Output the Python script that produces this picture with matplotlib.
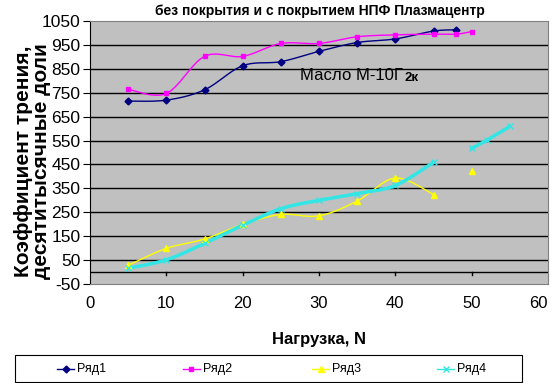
import numpy as np
import matplotlib
matplotlib.use('Agg')
import matplotlib.pyplot as plt
from matplotlib.lines import Line2D
from matplotlib.patches import Rectangle

plt.rcParams['font.family'] = ['Liberation Sans', 'DejaVu Sans']
plt.rcParams['axes.unicode_minus'] = False

# данные
x1 = [5, 10, 15, 20, 25, 30, 35, 40, 45, 48]
y1 = [715, 719, 762, 863, 880, 923, 960, 975, 1008, 1013]
x2 = [5, 10, 15, 20, 25, 30, 35, 40, 45, 48, 50]
y2 = [764, 747, 902, 902, 956, 956, 984, 992, 995, 995, 1006]
x3 = [5, 10, 15, 20, 25, 30, 35, 40, 45, 48, 50]
y3 = [28, 99, 138, 199, 241, 235, 297, 393, 324, np.nan, 424]
x4 = [5, 10, 15, 20, 25, 30, 35, 40, 45, 48, 50, 52, 55]
y4 = [16, 51, 120, 196, 265, 300, 328, 362, 459, np.nan, 517, 552, 609]
names = ['Ряд1', 'Ряд2', 'Ряд3', 'Ряд4']
xticks = [0, 10, 20, 30, 40, 50, 60]
yticks = list(range(-50, 1051, 100))


def smooth(x, y, n=20):
    # кривая Катмулла-Рома между точками (как сглаженная линия Excel)
    x = np.asarray(x, float)
    y = np.asarray(y, float)
    out_x, out_y = [], []
    ok = ~np.isnan(y)
    idx = np.where(ok)[0]
    segs = np.split(idx, np.where(np.diff(idx) != 1)[0] + 1)
    for s in segs:
        px, py = x[s], y[s]
        if len(px) < 2:
            continue
        px = np.r_[px[0], px, px[-1]]
        py = np.r_[py[0], py, py[-1]]
        t = np.linspace(0, 1, n)
        for i in range(1, len(px) - 2):
            for p, o in ((px, out_x), (py, out_y)):
                p0, p1, p2, p3 = p[i - 1], p[i], p[i + 1], p[i + 2]
                o.extend(0.5 * (2 * p1 + (-p0 + p2) * t
                                + (2 * p0 - 5 * p1 + 4 * p2 - p3) * t ** 2
                                + (-p0 + 3 * p1 - 3 * p2 + p3) * t ** 3))
        out_x.append(np.nan)
        out_y.append(np.nan)
    return out_x, out_y


W, H = 555, 383
fig = plt.figure(figsize=(W / 100, H / 100), dpi=100)
ax = fig.add_axes([90 / W, 1 - 284 / H, 458 / W, 263 / H])
ax.set_facecolor('#c0c0c0')

styles = [
    dict(color='#000080', marker='D', ms=3.5, lw=1.0),
    dict(color='#ff00ff', marker='s', ms=3.5, lw=1.0),
    dict(color='#ffff00', marker='^', ms=4, lw=1.0),
    dict(color='#33e6e6', marker='x', ms=4, lw=2.5),
]
data = [(x1, y1), (x2, y2), (x3, y3), (x4, y4)]
for (xs, ys), st in zip(data, styles):
    sx, sy = smooth(xs, ys)
    ax.plot(sx, sy, color=st['color'], lw=st['lw'], zorder=3)
    ax.plot(xs, ys, ls='none', marker=st['marker'], ms=st['ms'],
            color=st['color'], mec=st['color'], zorder=4)

ax.set_xlim(0, 60)
ax.set_ylim(-50, 1050)
ax.set_yticks(yticks)
ax.set_xticks(xticks)
for yv in yticks[1:-1]:
    ax.axhline(yv, color='black', lw=1.0, zorder=1)
ax.axhline(0, color='black', lw=1.0, zorder=1)
for xv in xticks[1:-1]:
    ax.plot([xv, xv], [0, -12], color='black', lw=1.0, zorder=1)

for s in ax.spines.values():
    s.set_color('#808080')
ax.spines['left'].set_color('black')
ax.tick_params(axis='y', labelsize=12.5, length=5, color='black', pad=2)
ax.tick_params(axis='x', labelsize=12, length=0, pad=9)
ax.get_xticklabels()[-1].set_ha('right')

ax.set_xlabel('Нагрузка, N', fontsize=12, fontweight='bold', labelpad=15)
fig.text(0.058, 0.58, 'Коэффициент трения,\nдесятитысячные доли',
         rotation=90, ha='center', va='center', fontsize=15,
         fontweight='bold', linespacing=0.95)
fig.text(0.577, 0.99, 'без покрытия и с покрытием НПФ Плазмацентр',
         ha='center', va='top', fontsize=10, fontweight='bold')
t1 = ax.text(27.5, 822, 'Масло М-10Г', fontsize=12, ha='left', va='center')
ax.annotate('2к', xy=(1.0, 0.0), xycoords=t1, xytext=(1, -0.5),
            textcoords='offset points', fontsize=9.5, fontweight='bold',
            ha='left', va='bottom')

# легенда в рамке под графиком
fig.add_artist(Rectangle((15 / W, 1 / H), 507 / W, 27 / H, transform=fig.transFigure,
                         facecolor='white', edgecolor='black', lw=0.8))
leg_x = [57, 183, 312, 437]
leg_y = 1 - 369 / H
for lx, st, nm in zip(leg_x, styles, names):
    fig.add_artist(Line2D([lx / W, (lx + 17) / W], [leg_y, leg_y],
                          transform=fig.transFigure, color=st['color'], lw=1.0))
    fig.add_artist(Line2D([(lx + 8.5) / W], [leg_y], transform=fig.transFigure,
                          color=st['color'], marker=st['marker'], ms=st['ms'], ls='none'))
    fig.text((lx + 20) / W, leg_y, nm, fontsize=9, ha='left', va='center')

fig.savefig('out.png', dpi=100)
